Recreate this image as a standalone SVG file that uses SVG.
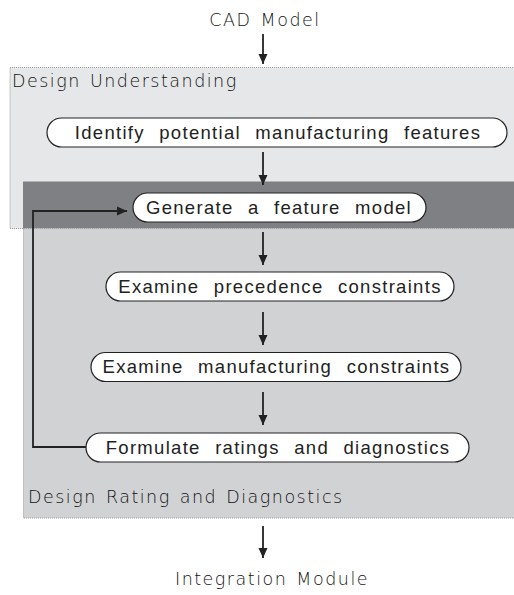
<svg xmlns="http://www.w3.org/2000/svg" width="514" height="595" viewBox="0 0 514 595">
<style>
.region{stroke:#999;stroke-width:1;stroke-dasharray:1 1}
.node rect{fill:#fff;stroke:#222;stroke-width:1.2}
.node text{font-family:"Liberation Sans",Arial,sans-serif;font-size:18.5px;fill:#222;text-anchor:middle;letter-spacing:1.3px;word-spacing:8px}
.hand{font-family:"DejaVu Sans",sans-serif;font-size:17.5px;fill:#111;font-weight:200;letter-spacing:1.5px;word-spacing:2px}
.conn{fill:none;stroke:#222;stroke-width:1.8}
</style>
<defs>
<marker id="ah" viewBox="0 0 10 10" refX="10" refY="5" markerWidth="10" markerHeight="10" markerUnits="userSpaceOnUse" orient="auto">
<path d="M0,0.5 L10,5 L0,9.5 z" fill="#222"/>
</marker>
</defs>
<g id="regions">
<rect class="region" x="10" y="67.5" width="510" height="161" fill="#e6e7e8"/>
<rect class="region" x="23.5" y="228.5" width="497" height="289.5" fill="#d1d2d4"/>
<rect x="23" y="181.5" width="491" height="46.5" fill="#7f8084"/>
<text class="hand" x="12" y="87">Design Understanding</text>
<text class="hand" x="28" y="503">Design Rating and Diagnostics</text>
</g>
<text class="hand" x="265" y="26" text-anchor="middle">CAD Model</text>
<text class="hand" x="272" y="585" text-anchor="middle">Integration Module</text>
<g id="connectors">
<line class="conn" x1="263" y1="34" x2="263" y2="64" marker-end="url(#ah)"/>
<line class="conn" x1="263" y1="152" x2="263" y2="185" marker-end="url(#ah)"/>
<line class="conn" x1="263" y1="232" x2="263" y2="265" marker-end="url(#ah)"/>
<line class="conn" x1="263" y1="312" x2="263" y2="345" marker-end="url(#ah)"/>
<line class="conn" x1="263" y1="392" x2="263" y2="425" marker-end="url(#ah)"/>
<line class="conn" x1="263" y1="526" x2="263" y2="558" marker-end="url(#ah)"/>
<polyline class="conn" points="86,447 33,447 33,211 127,211" marker-end="url(#ah)"/>
</g>
<g id="n1" class="node"><rect x="47" y="118" width="460" height="29" rx="14.5"/><text x="278" y="138.5">Identify potential manufacturing features</text></g>
<g id="n2" class="node"><rect x="133" y="193" width="293" height="29" rx="14.5"/><text x="279" y="213.5">Generate a feature model</text></g>
<g id="n3" class="node"><rect x="106" y="272" width="348" height="29" rx="14.5"/><text x="280" y="292.5">Examine precedence constraints</text></g>
<g id="n4" class="node"><rect x="91" y="352.5" width="370" height="29" rx="14.5"/><text x="276.5" y="373">Examine manufacturing constraints</text></g>
<g id="n5" class="node"><rect x="86" y="433" width="383" height="29" rx="14.5"/><text x="278" y="453.5">Formulate ratings and diagnostics</text></g>
</svg>
